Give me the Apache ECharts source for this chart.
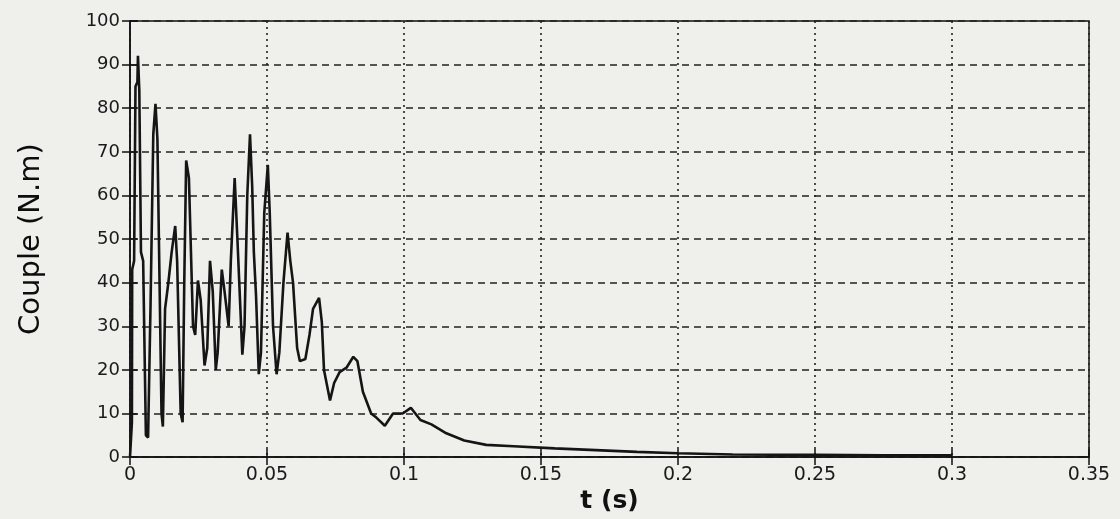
<!DOCTYPE html>
<html>
<head>
<meta charset="utf-8">
<script src="https://cdn.jsdelivr.net/npm/echarts@6/dist/echarts.min.js"></script>
<style>
html,body{margin:0;padding:0;background:#efefec;}
#c{width:1120px;height:519px;}
</style>
</head>
<body>
<div id="c"></div>
<script>
// time (s)
const tValues = [0,0.0007,0.0008,0.0015,0.0020,0.0027,0.0029,0.0034,0.0040,0.0048,0.0058,0.0066,0.0075,0.0085,0.0093,0.0100,0.0115,0.0120,0.0128,0.0140,0.0152,0.0165,0.0172,0.0185,0.0192,0.0198,0.0205,0.0215,0.0230,0.0238,0.0248,0.0258,0.0272,0.0282,0.0292,0.0302,0.0313,0.0320,0.0335,0.0345,0.0360,0.0368,0.0382,0.0392,0.0410,0.0418,0.0428,0.0438,0.0446,0.0452,0.0460,0.0470,0.0478,0.0490,0.0503,0.0510,0.0522,0.0535,0.0545,0.0560,0.0575,0.0585,0.0595,0.0610,0.0620,0.0640,0.0655,0.0668,0.0690,0.0700,0.0708,0.0730,0.0745,0.0765,0.0790,0.0815,0.0830,0.0850,0.0880,0.0900,0.0930,0.0960,0.0995,0.1025,0.1060,0.1100,0.1150,0.1220,0.1300,0.1400,0.1550,0.1700,0.1850,0.2000,0.2200,0.2500,0.2750,0.3000];
// couple (N.m)
const coupleValues = [0,8,43,45,85,86,92,84,47,45,5,4.5,35,74,81,73,10,7,34,40,47,53,45,10,8,40,68,64,30,28,40.5,36,21,25,45,38,20,24,43,38,30,45,64,50,23.5,30,60,74,62,47,37,19,24,56,67,56,30,19,24,40,51.5,45,40,25,22,22.5,28,34,36.5,31,20,13,17,19.5,20.5,23,22,15,10,9,7.2,10,10,11.3,8.5,7.5,5.6,3.8,2.8,2.5,2.0,1.6,1.2,0.9,0.6,0.5,0.4,0.4];
const xTicks = {min:0, max:0.35, interval:0.05};
const yTicks = {min:0, max:100, interval:10};

const seriesData = tValues.map((t,i)=>[t, coupleValues[i]]);
const chart = echarts.init(document.getElementById('c'), null, {renderer:'canvas'});
const labelFont = 'DejaVu Sans';
chart.setOption({
  backgroundColor:'#efefec',
  animation:false,
  grid:{left:130, right:31, top:21, bottom:54, show:true, borderColor:'#111', borderWidth:1.5, backgroundColor:'transparent'},
  xAxis:[{
    type:'value', min:xTicks.min, max:xTicks.max, interval:xTicks.interval,
    name:'t (s)', nameLocation:'middle', nameGap:30,
    nameTextStyle:{fontFamily:labelFont, fontSize:25, fontWeight:'bold', color:'#111'},
    axisLine:{show:true, lineStyle:{color:'#111', width:1.5}},
    axisTick:{show:true, inside:true, length:8, lineStyle:{color:'#111', width:1.5}},
    axisLabel:{fontFamily:labelFont, fontSize:19, color:'#1a1a1a', margin:8},
    splitLine:{show:true, lineStyle:{color:'#222', width:1.6, type:[2,4]}}
  },{
    type:'value', position:'top', min:xTicks.min, max:xTicks.max, interval:xTicks.interval,
    axisLine:{show:false}, axisLabel:{show:false}, splitLine:{show:false},
    axisTick:{show:true, inside:true, length:8, lineStyle:{color:'#111', width:1.5}}
  }],
  yAxis:[{
    type:'value', min:yTicks.min, max:yTicks.max, interval:yTicks.interval,
    name:'Couple (N.m)', nameLocation:'middle', nameGap:84,
    nameTextStyle:{fontFamily:labelFont, fontSize:29, color:'#0d0d0d'},
    axisLine:{show:true, lineStyle:{color:'#111', width:1.5}},
    axisTick:{show:true, inside:true, length:8, lineStyle:{color:'#111', width:1.5}},
    axisLabel:{fontFamily:labelFont, fontSize:18, color:'#1a1a1a', margin:10},
    splitLine:{show:true, lineStyle:{color:'#222', width:1.6, type:[7,5]}}
  },{
    type:'value', position:'right', min:yTicks.min, max:yTicks.max, interval:yTicks.interval,
    axisLine:{show:false}, axisLabel:{show:false}, splitLine:{show:false},
    axisTick:{show:true, inside:true, length:8, lineStyle:{color:'#111', width:1.5}}
  }],
  series:[{
    type:'line', data:seriesData, showSymbol:false, smooth:false,
    lineStyle:{color:'#151515', width:2.6}, z:5
  }]
});
</script>
</body>
</html>
